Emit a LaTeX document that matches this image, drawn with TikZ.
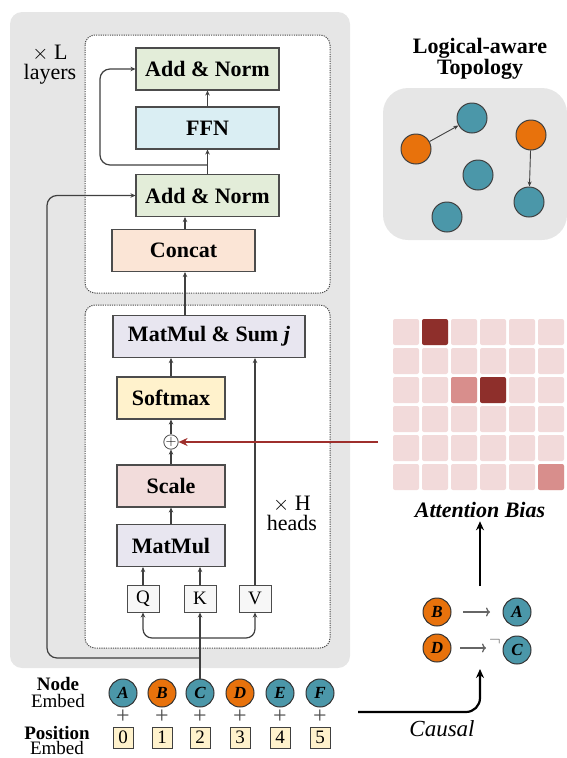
\documentclass[tikz,border=0pt]{standalone}
\usepackage{fontspec}
\setmainfont{Liberation Serif}
\usetikzlibrary{arrows.meta}
\definecolor{panelgray}{HTML}{E6E6E6}
\definecolor{addgreen}{HTML}{E3EDD9}
\definecolor{ffnblue}{HTML}{DAEEF3}
\definecolor{concatpeach}{HTML}{FBE5D6}
\definecolor{lavender}{HTML}{E8E6F0}
\definecolor{softyellow}{HTML}{FFF2CC}
\definecolor{scalepink}{HTML}{F2DCDB}
\definecolor{tealnode}{HTML}{4B97A9}
\definecolor{orangenode}{HTML}{E8720C}
\definecolor{biaslight}{HTML}{F2DADA}
\definecolor{biasmid}{HTML}{D88E8C}
\definecolor{biasdark}{HTML}{8E2F2B}
\definecolor{biasred}{HTML}{9E2F2C}
\begin{document}
\begin{tikzpicture}
				[x=1pt,y=-1pt,
				box/.style={draw=black!70,line width=1.1pt,inner sep=0pt,minimum width=143pt,minimum height=42pt,font=\fontsize{22}{24}\selectfont\bfseries},
				attbox/.style={box,minimum width=108pt},
				qkv/.style={draw=black!70,line width=1pt,fill=black!3,inner sep=0pt,minimum width=32pt,minimum height=27pt,font=\fontsize{19}{20}\selectfont},
				tok/.style={circle,draw=black!80,line width=1pt,inner sep=0pt,minimum size=28pt,font=\fontsize{17}{17}\selectfont\bfseries\itshape},
				topo/.style={circle,draw=black!75,line width=1pt,inner sep=0pt,minimum size=30pt},
				posbox/.style={draw=black!75,line width=1pt,fill=softyellow,inner sep=0pt,minimum width=20pt,minimum height=21pt,font=\fontsize{19}{20}\selectfont},
				lbl/.style={align=center,font=\fontsize{22}{20}\selectfont},
				embed/.style={inner sep=0pt,font=\fontsize{19}{19}\selectfont},
				arr/.style={draw=black!75,line width=1.2pt,-{Stealth[length=5pt,width=4.5pt]}},
				bigarr/.style={draw=black,line width=2.2pt,-{Stealth[length=9pt,width=8pt]}},
				implies/.style={draw=black!60,line width=1.3pt,-{To[length=4pt,width=9pt]}},
				dotbox/.style={draw=black!70,fill=white,line width=1pt,dash pattern=on 1.2pt off 1.1pt,rounded corners=10pt},
				cell/.style={rounded corners=2pt}]
				\useasboundingbox (0,0) rectangle (567,758);
				
				\fill[panelgray,rounded corners=12pt] (10,12) rectangle (350,668);
				\draw[dotbox] (85,35) rectangle (330,293);
				\draw[dotbox] (85,305) rectangle (330,648);
				
				\node[box,fill=addgreen] (addtop) at (207.5,69) {Add \& Norm};
				\node[box,fill=ffnblue] (ffn) at (207.5,128) {FFN};
				\node[box,fill=addgreen] (addlow) at (207.5,195.5) {Add \& Norm};
				\node[box,fill=concatpeach] (concat) at (183.5,250.5) {Concat};
				\node[box,fill=lavender,minimum width=192pt] (matsum) at (209,336.5) {MatMul \& Sum \textit{j}};
				\node[attbox,fill=softyellow] (softmax) at (171,398) {Softmax};
				\node[circle,draw=black!70,line width=0.8pt,inner sep=0pt,minimum size=14pt,font=\fontsize{14}{14}\selectfont] (oplus) at (171,442) {$+$};
				\node[attbox,fill=scalepink] (scale) at (171,486) {Scale};
				\node[attbox,fill=lavender] (matmul) at (171,545.5) {MatMul};
				\node[qkv] (q) at (143,598.5) {Q};
				\node[qkv] (k) at (200,598.5) {K};
				\node[qkv] (v) at (255,598.5) {V};
				
				\node[lbl] (layers) at (50,65) {$\times$ L\\layers};
				\node[lbl] (heads) at (292,513) {$\times$ H\\heads};
				
				\draw[arr] (addlow.north) -- (ffn.south);
				\draw[arr] (ffn.north) -- (addtop.south);
				\draw[arr] (concat.north -| 185,0) -- (addlow.south -| 185,0);
				\draw[arr] (matsum.north -| 185,0) -- (concat.south -| 185,0);
				\coordinate (res) at (207.5,165);
				\draw[arr,rounded corners=10pt] (res) -- (100,165) |- (addtop.west);
				\draw[arr] (softmax.north) -- (matsum.south -| softmax.north);
				\draw[arr] (oplus.north) -- (softmax.south);
				\draw[arr] (scale.north) -- (oplus.south);
				\draw[arr] (matmul.north) -- (scale.south);
				\draw[arr] (q.north) -- (q.north |- matmul.south);
				\draw[arr] (k.north) -- (k.north |- matmul.south);
				\draw[arr] (v.north) -- (v.north |- matsum.south);
				
				\node[tok,fill=tealnode] (na) at (123,693) {A};
				\node[tok,fill=orangenode] (nb) at (162,693) {B};
				\node[tok,fill=tealnode] (nc) at (200,693) {C};
				\node[tok,fill=orangenode] (nd) at (240,693) {D};
				\node[tok,fill=tealnode] (ne) at (280,693) {E};
				\node[tok,fill=tealnode] (nf) at (320,693) {F};
				\foreach \n/\x in {0/123,1/162,2/200,3/240,4/280,5/320}
				{
					\node[font=\fontsize{24}{24}\selectfont,text=black!70] (plus\n) at (\x,717) {+};
					\node[posbox] (p\n) at (\x,737.5) {\n};
				}
				\node[embed,font=\fontsize{19}{19}\selectfont\bfseries] (nodelbl) at (58,684) {Node};
				\node[embed] (nodeemb) at (58,701) {Embed};
				\node[embed,font=\fontsize{19}{19}\selectfont\bfseries] (poslbl) at (57,733) {Position};
				\node[embed] (posemb) at (57,748) {Embed};
				
				\coordinate (fork) at (200,638);
				\coordinate (skip) at (200,658);
				\coordinate (skipturn) at (47,658);
				\draw[arr] (nc.north) -- (k.south);
				\draw[arr,rounded corners=9pt] (fork) -| (q.south);
				\draw[arr,rounded corners=9pt] (fork) -| (v.south);
				\draw[arr,rounded corners=10pt] (skip) -- (skipturn) |- (addlow.west);
				
				\fill[panelgray,rounded corners=25pt] (383,88) rectangle (567,240);
				\node[lbl,font=\fontsize{22}{20}\selectfont\bfseries] (topotitle) at (480,59) {Logical-aware\\Topology};
				\node[topo,fill=orangenode] (o1) at (416,149) {};
				\node[topo,fill=tealnode] (t1) at (472,118) {};
				\node[topo,fill=tealnode] (t2) at (478,175) {};
				\node[topo,fill=tealnode] (t3) at (447,217) {};
				\node[topo,fill=orangenode] (o2) at (531,135) {};
				\node[topo,fill=tealnode] (t4) at (529,202) {};
				\foreach \from/\to in {o1/t1,o2/t4}
				\draw[draw=black!75,line width=0.9pt,-{Stealth[length=5pt,width=4pt]}] (\from) -- (\to);
				
				\foreach \r in {0,...,5}
				\foreach \c in {0,...,5}
				\fill[cell,biaslight] (393+29*\c,319+29*\r) rectangle ++(26,26);
				\foreach \c/\r/\col in {1/0/biasdark,3/2/biasdark,2/2/biasmid,5/5/biasmid}
				\fill[cell,\col] (393+29*\c,319+29*\r) rectangle ++(26,26);
				\node[font=\fontsize{22}{22}\selectfont\bfseries\itshape] (bias) at (480,510) {Attention Bias};
				\coordinate (biasgrid) at (378,442);
				\draw[draw=biasred,line width=1.6pt,-{Stealth[length=9pt,width=8pt]}] (biasgrid) -- (oplus.east);
				
				\node[tok,fill=orangenode] (cb) at (437,612) {B};
				\node[tok,fill=tealnode] (ca) at (517,612) {A};
				\node[tok,fill=orangenode] (cd) at (437,648) {D};
				\node[tok,fill=tealnode] (cc) at (517,650) {C};
				\coordinate (imp1a) at (463,612);
				\coordinate (imp1b) at (490,612);
				\coordinate (imp2a) at (460,648);
				\coordinate (imp2b) at (486,648);
				\draw[implies] (imp1a) -- (imp1b);
				\draw[implies] (imp2a) -- (imp2b);
				\node[text=black!60,font=\fontsize{16}{16}\selectfont] (neg) at (495,642) {$\neg$};
				
				\coordinate (biasin) at (480,586);
				\draw[bigarr] (biasin) -- (bias.south);
				\coordinate (causalstart) at (358,712);
				\coordinate (causalend) at (480,669);
				\draw[bigarr,rounded corners=14pt] (causalstart) -| (causalend);
				\node[font=\fontsize{23}{23}\selectfont\itshape] (causal) at (442,729) {Causal};
				\end{tikzpicture}
\end{document}
